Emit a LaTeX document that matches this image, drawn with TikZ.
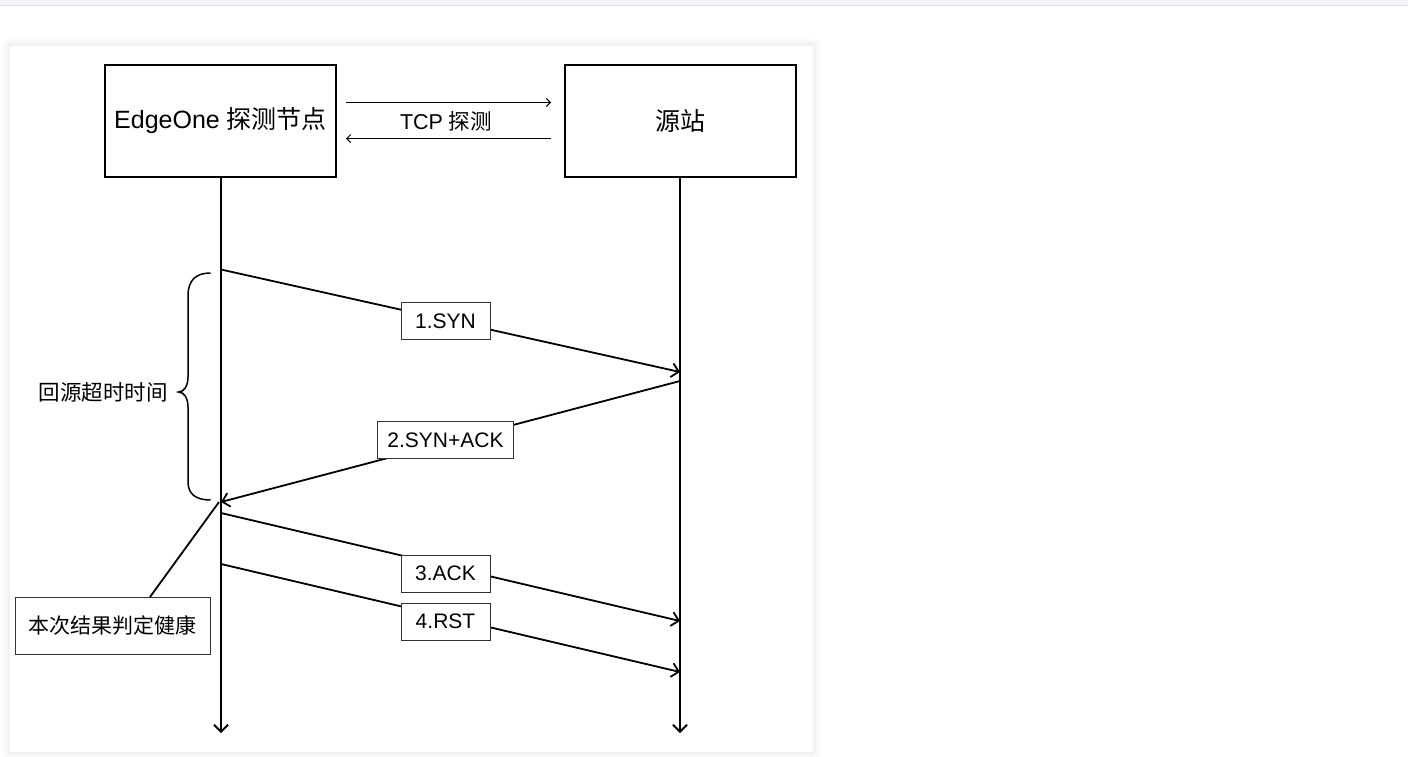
\documentclass[tikz,border=0pt]{standalone}
\usepackage{fontspec}
\setmainfont{Liberation Sans}
\newfontfamily\cjk{Noto Sans CJK SC}
\usetikzlibrary{arrows.meta}
\definecolor{topgray}{HTML}{F2F3F5}
\definecolor{topline}{HTML}{DCDFE6}
\begin{document}
\begin{tikzpicture}[x=1pt,y=-1pt,
  actor/.style={draw=black,line width=1.8pt,minimum width=231pt,minimum height=112pt,inner sep=0pt,font=\fontsize{25}{29}\selectfont},
  lifeline/.style={line width=1.8pt,-{Straight Barb[length=7pt,width=14pt]}},
  msg/.style={line width=1.8pt,-{Straight Barb[length=7pt,width=14pt]}},
  lbl/.style={draw=black!80,line width=1pt,fill=white,minimum width=89pt,minimum height=37pt,inner xsep=10pt,font=\fontsize{21}{25}\selectfont},
  thinarrow/.style={line width=0.9pt,-{Straight Barb[length=4pt,width=8pt]}},
  note/.style={draw=black!80,line width=1pt,fill=white,minimum width=195pt,minimum height=57pt,inner sep=0pt,font=\fontsize{21}{25}\selectfont},
]
\useasboundingbox (0,0) rectangle (1408,756);
\fill[white] (0,0) rectangle (1408,756);
\fill[topgray] (0,0) rectangle (1408,5);
\draw[topline,line width=1.5pt] (0,5.5) -- (1408,5.5);
% card with faint shadow
\foreach \i/\o in {8/0.012,5/0.018,2.5/0.025}{
  \fill[black,opacity=\o,rounded corners=\i pt] (10-\i,46-\i) rectangle (813+\i,752+\i);
}
\fill[white] (10,46) rectangle (813,752);

% actors
\node[actor] (edge) at (220.5,121) {EdgeOne {\cjk 探测节点}};
\node[actor] (origin) at (680.5,121) {\cjk 源站};

% TCP probe arrows
\coordinate (t1) at (346,102.5);
\coordinate (t2) at (551,102.5);
\coordinate (t3) at (551,138.5);
\coordinate (t4) at (346,138.5);
\draw[thinarrow] (t1) -- (t2);
\draw[thinarrow] (t3) -- (t4);
\node[font=\fontsize{21.5}{25}\selectfont] (tcp) at (446,121) {TCP {\cjk 探测}};

% lifelines
\coordinate (Lend) at (221,733);
\coordinate (Rend) at (680,733);
\draw[lifeline] (edge.south -| Lend) -- (Lend);
\draw[lifeline] (origin.south -| Rend) -- (Rend);

% message points
\coordinate (a1) at (221,269.5);
\coordinate (b1) at (680,372);
\coordinate (b2) at (680,381);
\coordinate (a2) at (221,502);
\coordinate (a3) at (221,513);
\coordinate (b3) at (680,621);
\coordinate (a4) at (221,564);
\coordinate (b4) at (680,672);

\draw[msg] (a1) -- (b1);
\draw[msg] (b2) -- (a2);
\draw[msg] (a3) -- (b3);
\draw[msg] (a4) -- (b4);

\node[lbl] (syn) at (445.5,321) {1.SYN};
\node[lbl] (synack) at (445.5,440) {2.SYN+ACK};
\node[lbl] (ack) at (445.5,573.5) {3.ACK};
\node[lbl] (rst) at (445.5,621.5) {4.RST};

% brace
\draw[line width=1.5pt] (210.5,273) .. controls (196,273) and (188,280) .. (188,296)
  -- (188,377) .. controls (188,386) and (184,392) .. (178.5,392)
  .. controls (184,392) and (188,398) .. (188,407)
  -- (188,482) .. controls (188,494) and (196,500) .. (210.5,500);
\node[font=\fontsize{21.5}{25}\selectfont] (timeout) at (103,392) {\cjk 回源超时时间};

% note
\node[note] (health) at (112.5,625.5) {\cjk 本次结果判定健康};
\coordinate (hp) at (150,597);
\draw[line width=1.8pt] (hp) -- (219,502);
\end{tikzpicture}
\end{document}
